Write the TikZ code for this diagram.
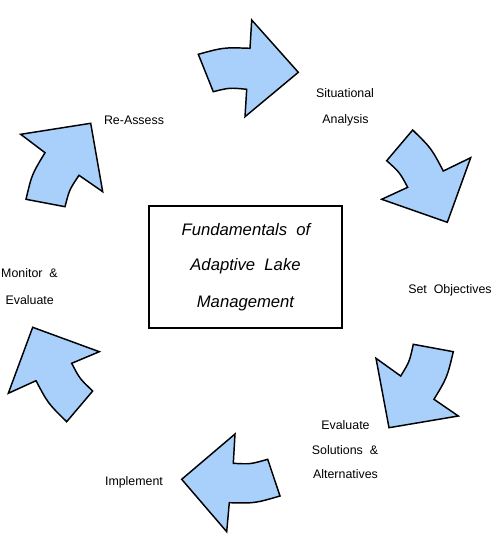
\documentclass[tikz,border=0pt]{standalone}
\usepackage{fontspec}
\setmainfont{Liberation Sans}
\usetikzlibrary{calc}
\definecolor{arrowblue}{RGB}{168,208,250}
\tikzset{
  blockarrow/.style={draw=black, fill=arrowblue, line width=1.1pt, line join=miter},
  lbl/.style={font=\fontsize{9.3}{11}\selectfont, align=center, inner sep=0pt},
  title/.style={font=\fontsize{12.5}{14}\selectfont\itshape, inner sep=0pt}
}
\newcommand{\bulge}[3]{.. controls ($(#1)!.5!(#2)!-#3!(O)$) .. (#2)}
\begin{document}
\begin{tikzpicture}[x=0.75pt,y=-0.75pt]
\useasboundingbox (0,0) rectangle (495,553);
\coordinate (O) at (262,272);
% arrow 1 (top)
\coordinate (a1) at (198.3,54.3);
\coordinate (a2) at (250,48.3);
\coordinate (a3) at (246.7,89.3);
\coordinate (a4) at (213.3,91.7);
\draw[blockarrow] (a1) \bulge{a1}{a2}{3pt} -- (251.7,20) -- (298.3,72.3) -- (245,116.7) -- (a3) \bulge{a3}{a4}{2.2pt} -- cycle;
% arrow 2 (top right)
\coordinate (b1) at (412.7,130);
\coordinate (b2) at (443.3,171);
\coordinate (b3) at (407.7,187.3);
\coordinate (b4) at (386.7,160.7);
\draw[blockarrow] (b1) \bulge{b1}{b2}{3pt} -- (470.7,157.7) -- (447.3,222.3) -- (381.7,199.3) -- (b3) \bulge{b3}{b4}{2.2pt} -- cycle;
% arrow 3 (bottom right)
\coordinate (c1) at (453.3,351.7);
\coordinate (c2) at (434,399.3);
\coordinate (c3) at (400.7,376);
\coordinate (c4) at (413.3,344.3);
\draw[blockarrow] (c4) -- (c1) \bulge{c1}{c2}{3pt} -- (458.3,416) -- (389,427.7) -- (376,358.3) -- (c3) \bulge{c3}{c4}{2.2pt} -- cycle;
% arrow 4 (bottom)
\coordinate (d1) at (229.3,502.7);
\coordinate (d2) at (280,496);
\coordinate (d3) at (267.7,459.3);
\coordinate (d4) at (233.3,463.3);
\draw[blockarrow] (235,434) -- (181.7,479.3) -- (226.7,531.7) -- (d1) \bulge{d1}{d2}{3pt} -- (d3) \bulge{d3}{d4}{2.2pt} -- cycle;
% arrow 5 (left lower)
\coordinate (e1) at (71.7,363.3);
\coordinate (e2) at (92.7,391);
\coordinate (e3) at (66.7,421.7);
\coordinate (e4) at (36,380.7);
\draw[blockarrow] (32.7,327.3) -- (99.3,351.7) -- (e1) \bulge{e1}{e2}{2.2pt} -- (e3) \bulge{e3}{e4}{3pt} -- (8.3,393.3) -- cycle;
% arrow 6 (left upper)
\coordinate (f1) at (79,175.3);
\coordinate (f2) at (65,206.7);
\coordinate (f3) at (26,199.3);
\coordinate (f4) at (45,152.7);
\draw[blockarrow] (20.7,134.3) -- (90.7,123.3) -- (102.7,191.7) -- (f1) \bulge{f1}{f2}{2.2pt} -- (f3) \bulge{f3}{f4}{3pt} -- cycle;
% centre box
\draw[line width=0.8pt] (149,206) rectangle (342,328);
\node[title] (t1) at (246,229.5) {Fundamentals\ \ of};
\node[title] (t2) at (245.5,266.5) {Adaptive\ \ Lake};
\node[title] (t3) at (245.5,303.5) {Management};
% labels
\node[lbl] (l1a) at (345,93) {Situational};
\node[lbl] (l1b) at (345.5,120.5) {Analysis};
\node[lbl] (l2) at (450,290) {Set\ \ Objectives};
\node[lbl] (l3a) at (345.5,425) {Evaluate};
\node[lbl] (l3b) at (345,450.5) {Solutions\ \ \&};
\node[lbl] (l3c) at (345.5,474.5) {Alternatives};
\node[lbl] (l4) at (134,482) {Implement};
\node[lbl] (l5a) at (29.5,273) {Monitor\ \ \&};
\node[lbl] (l5b) at (29.7,300.5) {Evaluate};
\node[lbl] (l6) at (134,120) {Re-Assess};
\end{tikzpicture}
\end{document}
